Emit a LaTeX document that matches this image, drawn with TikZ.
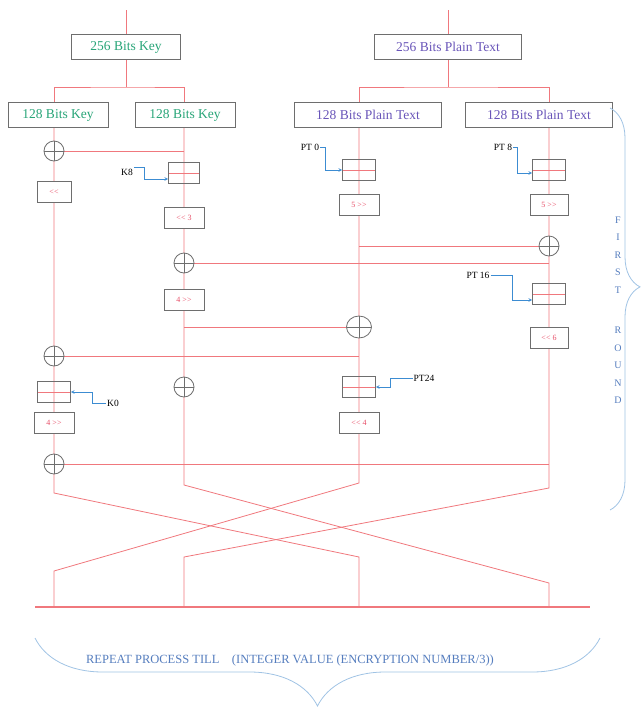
\documentclass[tikz,border=0pt]{standalone}
\usepackage{fontspec}
\setmainfont{Liberation Serif}
\usetikzlibrary{positioning,backgrounds,decorations.pathreplacing,shapes.geometric}
\definecolor{wirered}{RGB}{240,120,125}
\definecolor{keygreen}{RGB}{40,165,120}
\definecolor{ptviolet}{RGB}{105,85,185}
\definecolor{shiftred}{RGB}{232,80,105}
\definecolor{feedblue}{RGB}{60,140,210}
\definecolor{braceblue}{RGB}{160,195,228}
\definecolor{notetext}{RGB}{85,125,190}
\definecolor{boxgray}{RGB}{110,110,110}

\begin{document}
\begin{tikzpicture}[
    x=1pt, y=-1pt,
    inbox/.style={draw=boxgray, line width=0.9pt, fill=white, minimum height=25pt, inner sep=2pt, font=\fontsize{13.5}{15}\selectfont},
    keybox/.style={inbox, text=keygreen},
    ptbox/.style={inbox, text=ptviolet},
    shiftbox/.style={draw=boxgray, line width=0.8pt, fill=white, minimum width=40pt, minimum height=21pt, inner sep=1pt, text=shiftred, font=\fontsize{8}{9}\selectfont},
    mixbox/.style={draw=boxgray, line width=0.8pt, minimum width=33pt, minimum height=21pt,
        path picture={\draw[wirered, line width=0.7pt] (path picture bounding box.west) -- (path picture bounding box.east);}},
    xor/.style={circle, draw=boxgray, line width=0.8pt, fill=white, minimum size=20pt, inner sep=0pt,
        path picture={\draw[boxgray, line width=0.7pt] (path picture bounding box.north) -- (path picture bounding box.south)
            (path picture bounding box.west) -- (path picture bounding box.east);}},
    wire/.style={draw=wirered, line width=0.8pt},
    feed/.style={->, >=stealth, draw=feedblue, line width=0.6pt},
    tag/.style={font=\fontsize{9.5}{10}\selectfont, inner sep=1pt},
    bracket/.style={draw=braceblue, line width=0.8pt, decorate}
]
\useasboundingbox (0,0) rectangle (643,707);

% inputs
\node[keybox, minimum width=109pt] (key) at (126,47) {256 Bits Key};
\node[ptbox, minimum width=147pt] (pt) at (448,47) {256 Bits Plain Text};
\node[keybox, minimum width=100pt] (keyA) at (58,115) {128 Bits Key};
\node[keybox, minimum width=100pt] (keyB) at (185,115) {128 Bits Key};
\node[ptbox, minimum width=147pt] (ptA) at (368,115) {128 Bits Plain Text};
\node[ptbox, minimum width=147pt] (ptB) at (539,115) {128 Bits Plain Text};

% key half 1
\node[xor] (xorA) at (54,151) {};
\node[shiftbox, minimum width=34pt] (shA) at (54,192) {{<}{<}};
\node[xor] (xorB) at (54,356) {};
\node[mixbox] (mixK0) at (54,392) {};
\node[shiftbox] (shB) at (54,423) {4 {>}{>}};
\node[xor] (xorC) at (54,464) {};

% key half 2
\node[mixbox, minimum width=31pt] (mixK8) at (184,173) {};
\node[shiftbox] (shC) at (184,218) {{<}{<} 3};
\node[xor] (xorD) at (184,263) {};
\node[shiftbox] (shD) at (184,300) {4 {>}{>}};
\node[xor] (xorE) at (184,387) {};

% plain text half 1
\node[mixbox] (mixP0) at (359,170) {};
\node[shiftbox] (shE) at (359,205) {5 {>}{>}};
\node[xor, ellipse, minimum width=25pt, minimum height=22pt] (xorF) at (359,327) {};
\node[mixbox] (mixP24) at (359,387) {};
\node[shiftbox] (shF) at (359,423) {{<}{<} 4};

% plain text half 2
\node[mixbox] (mixP8) at (549,170) {};
\node[shiftbox, minimum width=38pt] (shG) at (549,205) {5 {>}{>}};
\node[xor] (xorG) at (549,246) {};
\node[mixbox] (mixP16) at (549,294) {};
\node[shiftbox, minimum width=38pt] (shH) at (549,338) {{<}{<} 6};

\node[tag] (tK8) at (127,172) {K8};
\node[tag] (tK0) at (113,403) {K0};
\node[tag] (tP0) at (310,147) {PT 0};
\node[tag] (tP8) at (503,147) {PT 8};
\node[tag] (tP16) at (478,275) {PT 16};
\node[tag] (tP24) at (424,378) {PT24};

\draw[feed] (tK8.north east) -- ++(10,0) |- ([yshift=-6pt]mixK8.west);
\draw[feed] (tP0.east) -- ++(5,0) |- (mixP0.west);
\draw[feed] (tP8.east) -- ++(4,0) |- ([yshift=-3pt]mixP8.west);
\draw[feed] (tP16.east) -- ++(22,0) |- ([yshift=-6pt]mixP16.west);
\draw[feed] (tP24.west) -- ++(-22,0) |- (mixP24.east);
\draw[feed] (tK0.west) -- ++(-14,0) |- (mixK0.east);

\coordinate (kin) at (126,10);
\coordinate (pin) at (448,10);
\coordinate (ksplit) at (126,87);
\coordinate (psplit) at (448,87);
\coordinate (b1) at (54,493);  \coordinate (m1) at (359,557); \coordinate (e1) at (359,607);
\coordinate (b2) at (184,485); \coordinate (m2) at (549,583); \coordinate (e2) at (549,607);
\coordinate (b3) at (359,483); \coordinate (m3) at (54,571);  \coordinate (e3) at (54,607);
\coordinate (b4) at (549,488); \coordinate (m4) at (184,557); \coordinate (e4) at (184,607);
\coordinate (baseW) at (35,607);
\coordinate (baseE) at (590,607);

\begin{scope}[on background layer]
\draw[wire] (kin) -- (key) -- (ksplit);
\draw[wire] (pin) -- (pt) -- (psplit);
\draw[wire] (keyA.north -| xorA) |- (ksplit) -| (keyB.north -| mixK8);
\draw[wire] (ptA.north -| mixP0) |- (psplit) -| (ptB.north -| mixP8);
\draw[wire] (keyA.south -| xorA) -- (xorA.center) -- (shA.center) -- (xorB.center) -- (mixK0.center) -- (shB.center) -- (xorC.center) -- (b1) -- (m1) -- (e1);
\draw[wire] (keyB.south -| mixK8) -- (mixK8.center) -- (shC.center) -- (xorD.center) -- (shD.center) -- (xorE.center) -- (b2) -- (m2) -- (e2);
\draw[wire] (ptA.south -| mixP0) -- (mixP0.center) -- (shE.center) -- (xorF.center) -- (mixP24.center) -- (shF.center) -- (b3) -- (m3) -- (e3);
\draw[wire] (ptB.south -| mixP8) -- (mixP8.center) -- (shG.center) -- (xorG.center) -- (mixP16.center) -- (shH.center) -- (b4) -- (m4) -- (e4);
\draw[wire] (xorA) -- (xorA -| mixK8);
\draw[wire] (xorD) -- (xorD -| xorG);
\draw[wire] (xorG -| mixP0) -- (xorG);
\draw[wire] (xorF -| shD) -- (xorF);
\draw[wire] (xorB) -- (xorB -| mixP0);
\draw[wire] (xorC) -- (xorC -| xorG);
\draw[wire, line width=1.2pt] (baseW) -- (baseE);
\end{scope}

% rounds
\draw[bracket, decoration={brace, amplitude=30pt, aspect=0.445}] (610,108) -- (610,510);
\node[text=notetext, align=center, font=\fontsize{10}{17.5}\selectfont] (first) at (618,310) {F\\I\\R\\S\\T\\[23pt]R\\O\\U\\N\\D};
\draw[bracket, decoration={brace, amplitude=68pt}] (600,638) -- (35,638);
\node[text=notetext, font=\fontsize{12.5}{14}\selectfont] (repeat) at (290,660) {REPEAT PROCESS TILL\quad(INTEGER VALUE (ENCRYPTION NUMBER/3))};
\end{tikzpicture}
\end{document}
